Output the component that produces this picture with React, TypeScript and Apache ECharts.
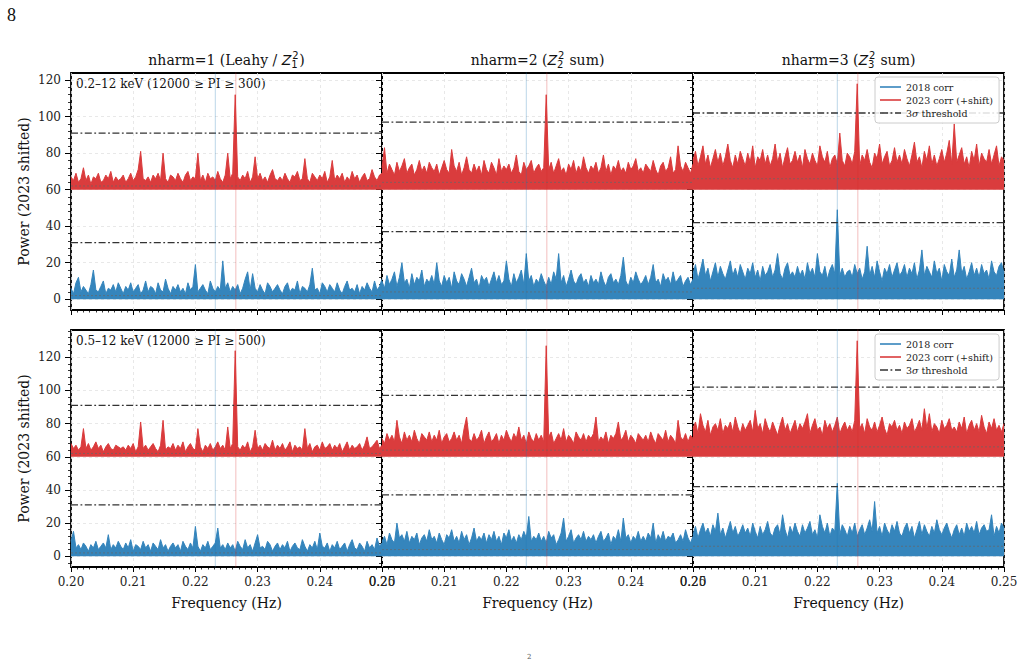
import React, { useEffect, useRef } from 'react';
import * as echarts from 'echarts';

// ---- frequency grid (Hz) ----
const FREQ_START = 0.2;
const FREQ_STEP = 0.0004;

// ---- axis ticks ----
const Y_TICKS = [0, 20, 40, 60, 80, 100, 120];
const Y_MINOR_STEP = 4;
const Y_RANGE_ROW = [[-5.9, 123.9], [-6.5, 136.5]];

// ---- constants of the analysis ----
const SHIFT = 60; // 2023 curve shifted up by this much
const THRESH_3SIGMA = [31, 37, 42]; // per nharm
const MEAN_LEVEL = [2, 4, 6]; // expected mean 2*nharm
const F_2018 = 0.2232;
const F_2023 = 0.2265;

const ROW_LABELS = ['0.2–12 keV (12000 ≥ PI ≥ 300)', '0.5–12 keV (12000 ≥ PI ≥ 500)'];
const TITLES = [
  { pre: 'nharm=1 (Leahy / ', sub: '1', post: ')' },
  { pre: 'nharm=2 (', sub: '2', post: ' sum)' },
  { pre: 'nharm=3 (', sub: '3', post: ' sum)' },
];
const NAME_2018 = '2018 corr';
const NAME_2023 = '2023 corr (+shift)';
const NAME_THR = '3σ threshold';

// ---- powers: row A = 0.2–12 keV, row B = 0.5–12 keV; 1,2,3 = nharm ----
const A1_2018 = [
  6, 3, 9, 12, 4, 7, 5, 3, 8, 16, 5, 4, 7, 10, 3, 6, 5, 8, 4, 9, 6,
  3, 7, 5, 9, 4, 6, 8, 3, 5, 10, 4, 7, 6, 3, 9, 5, 4, 11, 6, 3, 7,
  5, 8, 4, 6, 3, 9, 5, 7, 19, 4, 6, 8, 5, 3, 10, 6, 4, 7, 5, 21, 6,
  9, 4, 7, 5, 8, 3, 6, 11, 15, 5, 14, 6, 4, 8, 5, 3, 9, 7, 4, 6, 8,
  5, 3, 7, 9, 4, 6, 5, 10, 3, 7, 6, 4, 8, 17, 5, 6, 3, 9, 7, 4, 8,
  6, 4, 9, 5, 3, 7, 10, 5, 6, 4, 8, 3, 7, 5, 9, 6, 4, 10, 5, 7, 11,
];
const A1_2023 = [
  7, 5, 9, 4, 6, 12, 5, 8, 3, 7, 6, 9, 4, 5, 8, 6, 10, 4, 7, 5, 6,
  8, 4, 6, 9, 5, 7, 11, 21, 6, 5, 7, 4, 8, 6, 9, 5, 20, 6, 4, 8, 7,
  5, 9, 6, 4, 8, 10, 5, 7, 6, 20, 5, 8, 4, 9, 6, 7, 5, 10, 6, 4, 8,
  20, 6, 9, 52, 7, 5, 8, 6, 10, 4, 7, 18, 6, 9, 5, 7, 4, 8, 11, 6, 5,
  7, 5, 9, 6, 4, 8, 7, 10, 5, 6, 17, 6, 4, 9, 7, 5, 8, 6, 10, 4, 7,
  16, 5, 8, 6, 9, 4, 7, 5, 10, 6, 8, 4, 7, 9, 5, 6, 11, 7, 5, 8, 9,
];
const A2_2018 = [
  10, 6, 13, 8, 11, 15, 7, 12, 20, 9, 11, 6, 14, 8, 12, 10, 16, 7, 11, 9, 13,
  8, 20, 10, 7, 13, 9, 12, 6, 15, 10, 8, 14, 11, 7, 12, 17, 9, 11, 6, 13, 10,
  12, 7, 11, 15, 9, 13, 8, 10, 21, 11, 7, 14, 9, 12, 16, 8, 25, 10, 13, 7, 11,
  9, 14, 10, 7, 12, 8, 15, 11, 25, 9, 13, 7, 11, 16, 10, 8, 12, 14, 9, 11, 7,
  13, 9, 11, 8, 15, 10, 7, 12, 14, 9, 11, 8, 13, 23, 10, 7, 12, 9, 15, 11, 8,
  10, 13, 8, 12, 19, 9, 11, 7, 14, 10, 12, 8, 15, 9, 11, 13, 7, 10, 12, 8, 11,
];
const A2_2023 = [
  12, 23, 9, 14, 11, 8, 15, 10, 13, 17, 9, 12, 14, 8, 11, 16, 10, 13, 9, 15, 12,
  10, 14, 8, 12, 16, 11, 9, 22, 13, 10, 15, 8, 12, 18, 11, 9, 14, 10, 13, 8, 16,
  11, 9, 15, 12, 8, 17, 10, 13, 11, 14, 9, 12, 19, 10, 8, 15, 11, 13, 16, 9, 12,
  14, 10, 12, 52, 11, 15, 9, 13, 17, 10, 12, 8, 14, 11, 16, 9, 13, 10, 18, 12, 9,
  13, 11, 15, 9, 12, 19, 10, 14, 8, 13, 11, 16, 10, 12, 9, 15, 11, 13, 17, 10, 12,
  9, 14, 12, 10, 16, 11, 8, 13, 15, 10, 12, 18, 9, 11, 24, 13, 10, 15, 12, 9, 14,
];
const A3_2018 = [
  14, 19, 11, 16, 22, 13, 17, 10, 15, 20, 12, 18, 14, 11, 16, 21, 13, 17, 12, 19, 15,
  11, 17, 14, 20, 12, 16, 10, 18, 13, 15, 19, 12, 16, 25, 14, 11, 17, 20, 13, 15, 12,
  18, 13, 16, 11, 20, 14, 17, 12, 25, 15, 13, 18, 11, 16, 19, 14, 49, 13, 17, 12, 15,
  16, 12, 19, 14, 17, 11, 15, 29, 13, 18, 12, 21, 15, 10, 17, 14, 19, 12, 16, 20, 13,
  15, 19, 12, 17, 14, 20, 11, 16, 27, 13, 18, 15, 12, 21, 14, 17, 10, 19, 15, 13, 22,
  12, 16, 27, 14, 18, 11, 15, 20, 13, 17, 12, 19, 14, 16, 11, 21, 15, 13, 18, 20, 14,
];
const A3_2023 = [
  16, 21, 13, 18, 24, 14, 19, 12, 17, 22, 15, 20, 13, 18, 25, 16, 12, 19, 14, 21, 17,
  13, 20, 15, 24, 12, 18, 16, 22, 14, 19, 13, 17, 25, 15, 20, 12, 18, 23, 14, 16, 21,
  15, 19, 12, 22, 17, 14, 20, 16, 13, 24, 18, 15, 21, 12, 17, 19, 14, 31, 16, 13, 20,
  18, 14, 21, 58, 13, 19, 16, 22, 15, 12, 20, 17, 25, 14, 18, 21, 13, 16, 23, 15, 19,
  14, 22, 17, 13, 19, 26, 15, 18, 12, 21, 16, 24, 14, 19, 13, 17, 22, 15, 20, 27, 14,
  36, 15, 19, 23, 14, 18, 12, 21, 16, 25, 13, 20, 17, 15, 22, 14, 19, 24, 13, 18, 16,
];
const B1_2018 = [
  9, 15, 5, 7, 4, 8, 6, 3, 7, 5, 9, 4, 6, 8, 5, 13, 4, 7, 5, 9, 6,
  4, 8, 5, 10, 3, 7, 6, 4, 9, 5, 7, 3, 8, 6, 4, 10, 5, 7, 3, 6, 8,
  5, 7, 3, 9, 6, 4, 8, 5, 18, 6, 3, 7, 5, 9, 4, 6, 8, 17, 5, 7, 4,
  8, 5, 7, 3, 9, 6, 4, 10, 5, 7, 3, 8, 13, 5, 6, 4, 9, 7, 3, 6, 8,
  4, 7, 5, 9, 3, 6, 8, 5, 4, 10, 6, 3, 7, 5, 9, 4, 14, 6, 5, 8, 3,
  7, 5, 9, 4, 6, 8, 3, 7, 10, 5, 4, 8, 6, 3, 9, 5, 7, 4, 11, 6, 8,
];
const B1_2023 = [
  8, 5, 7, 4, 6, 17, 5, 8, 4, 6, 9, 5, 7, 3, 6, 8, 5, 4, 7, 6, 5,
  6, 4, 7, 5, 8, 3, 6, 21, 5, 7, 4, 6, 8, 5, 3, 7, 22, 4, 6, 5, 8,
  4, 7, 5, 9, 3, 6, 8, 5, 4, 17, 6, 3, 7, 5, 8, 4, 6, 9, 5, 7, 4,
  18, 5, 8, 64, 6, 4, 7, 5, 9, 3, 6, 16, 5, 7, 4, 8, 6, 5, 10, 4, 7,
  5, 8, 4, 6, 9, 3, 7, 5, 6, 4, 17, 5, 8, 3, 6, 7, 4, 9, 5, 6, 8,
  4, 7, 5, 8, 3, 6, 9, 4, 7, 5, 6, 8, 4, 7, 12, 5, 6, 8, 10, 5, 7,
];
const B2_2018 = [
  9, 12, 7, 14, 10, 8, 20, 11, 13, 9, 15, 8, 12, 10, 14, 7, 11, 13, 9, 16, 10,
  12, 8, 14, 10, 7, 13, 11, 16, 9, 12, 8, 15, 10, 13, 7, 11, 17, 9, 12, 10, 14,
  8, 13, 10, 15, 9, 12, 7, 14, 11, 16, 9, 12, 8, 13, 10, 15, 11, 24, 9, 12, 10,
  14, 9, 12, 8, 15, 11, 13, 7, 10, 14, 23, 9, 12, 16, 8, 11, 13, 10, 15, 9, 12,
  10, 13, 8, 12, 15, 9, 11, 14, 7, 12, 10, 16, 9, 23, 11, 13, 8, 12, 10, 15, 9,
  12, 9, 14, 11, 20, 8, 13, 10, 15, 9, 12, 11, 14, 8, 10, 13, 9, 16, 11, 8, 12,
];
const B2_2023 = [
  11, 8, 14, 10, 13, 9, 22, 12, 8, 15, 10, 13, 9, 16, 11, 8, 14, 12, 10, 15, 9,
  13, 10, 16, 8, 12, 14, 9, 11, 15, 10, 13, 8, 17, 24, 11, 9, 14, 10, 12, 16, 8,
  12, 15, 9, 11, 14, 8, 13, 10, 16, 12, 9, 14, 11, 18, 10, 13, 8, 15, 11, 9, 14,
  10, 13, 9, 67, 12, 15, 8, 11, 14, 10, 17, 9, 13, 11, 8, 15, 12, 10, 14, 9, 13,
  11, 14, 24, 9, 12, 10, 15, 8, 13, 11, 14, 21, 10, 12, 16, 9, 13, 11, 8, 14, 12,
  10, 13, 9, 15, 11, 8, 14, 12, 10, 16, 9, 13, 11, 8, 22, 12, 10, 14, 9, 13, 11,
];
const B3_2018 = [
  13, 18, 11, 16, 20, 14, 17, 12, 19, 15, 26, 13, 17, 11, 16, 21, 14, 18, 12, 15, 19,
  14, 17, 12, 20, 15, 11, 18, 13, 16, 21, 14, 12, 17, 19, 13, 25, 16, 11, 18, 14, 20,
  15, 12, 19, 14, 17, 21, 13, 16, 11, 25, 18, 14, 20, 12, 17, 15, 44, 13, 19, 16, 12,
  18, 14, 20, 12, 16, 19, 13, 17, 22, 15, 33, 14, 18, 12, 20, 16, 13, 19, 15, 21, 14,
  12, 17, 20, 14, 18, 11, 16, 21, 13, 19, 15, 12, 18, 14, 22, 16, 13, 17, 20, 15, 11,
  16, 19, 13, 17, 12, 20, 15, 18, 14, 21, 13, 17, 19, 15, 16, 25, 12, 18, 14, 20, 17,
];
const B3_2023 = [
  17, 21, 14, 26, 19, 15, 22, 13, 18, 20, 16, 23, 14, 19, 17, 21, 15, 24, 18, 14, 20,
  16, 19, 22, 15, 28, 17, 20, 14, 23, 18, 15, 21, 17, 13, 19, 24, 16, 20, 14, 18, 22,
  15, 20, 17, 21, 26, 14, 19, 23, 16, 18, 13, 22, 17, 20, 15, 19, 24, 14, 18, 21, 16,
  19, 15, 22, 70, 17, 20, 14, 23, 18, 16, 21, 15, 19, 24, 17, 13, 20, 18, 22, 16, 19,
  14, 21, 17, 19, 23, 15, 18, 22, 16, 29, 17, 26, 15, 20, 18, 14, 22, 17, 19, 23, 16,
  18, 15, 21, 17, 24, 14, 19, 22, 16, 20, 15, 25, 18, 14, 21, 17, 23, 16, 19, 15, 20,
];

const PANEL_DATA = [
  [A1_2018, A1_2023], [A2_2018, A2_2023], [A3_2018, A3_2023],
  [B1_2018, B1_2023], [B2_2018, B2_2023], [B3_2018, B3_2023],
];

// ---- layout ----
const GRID_LEFT = [71, 382, 693];
const GRID_TOP = [73, 330];
const GW = 311;
const GH = 237;
const SERIF = '"DejaVu Serif", serif';
const C_BLUE = '#3585bc';
const C_RED = '#da3c3d';
const ICON_LINE = 'path://M0,0h21v1.6h-21z';
const ICON_DASHDOT = 'path://M0,0h8v1.6h-8zM10.5,0h1.8v1.6h-1.8zM15,0h6v1.6h-6z';

function toXY(vals: number[], offset: number) {
  return vals.map((v, i) => [+(FREQ_START + i * FREQ_STEP).toFixed(4), v + offset]);
}

export default function App() {
  const ref = useRef<HTMLDivElement>(null);
  useEffect(() => {
    if (!ref.current) return;
    const chart = echarts.init(ref.current, null, { renderer: 'svg' });
    const ctx = document.createElement('canvas').getContext('2d')!;
    const measure = (t: string, font: string) => { ctx.font = font; return ctx.measureText(t).width; };

    const grids: any[] = [];
    const xAxes: any[] = [];
    const yAxes: any[] = [];
    const yMinor: any[] = [];
    const series: any[] = [];
    const splitStyle = { color: '#e2e2e2', width: 0.8, type: [3, 3] };

    for (let r = 0; r < 2; r++) {
      for (let c = 0; c < 3; c++) {
        const g = r * 3 + c;
        const [ymin, ymax] = Y_RANGE_ROW[r];
        grids.push({ left: GRID_LEFT[c], top: GRID_TOP[r], width: GW, height: GH, show: true, borderColor: '#000', borderWidth: 1.8, backgroundColor: 'transparent' });
        xAxes.push({
          gridIndex: g, type: 'value', min: 0.2, max: 0.25, interval: 0.01,
          axisLine: { show: false, onZero: false },
          axisTick: { show: true, inside: false, length: 5, lineStyle: { color: '#000', width: 1 } },
          minorTick: { show: true, splitNumber: 10, length: 2.5, lineStyle: { color: '#000', width: 0.8 } },
          axisLabel: { show: r === 1, formatter: (v: number) => v.toFixed(2), fontFamily: SERIF, fontSize: 12, color: '#222', margin: 9 },
          splitLine: { show: true, lineStyle: splitStyle },
        });
        const ticks = Y_TICKS.filter((v) => v <= ymax);
        yAxes.push({
          gridIndex: g, type: 'value', min: ymin, max: ymax, splitNumber: 6,
          axisLine: { show: false, onZero: false },
          axisTick: { show: true, inside: false, length: 6, customValues: ticks, lineStyle: { color: '#000', width: 1 } },
          axisLabel: { show: c === 0, customValues: ticks, fontFamily: SERIF, fontSize: 12, color: '#222', margin: 10 },
          splitLine: { show: true, lineStyle: splitStyle },
        });
        const minors: number[] = [];
        for (let v = Math.ceil(ymin / Y_MINOR_STEP) * Y_MINOR_STEP; v <= ymax; v += Y_MINOR_STEP) {
          if (v % 20 !== 0) minors.push(v);
        }
        yMinor.push({
          gridIndex: g, type: 'value', min: ymin, max: ymax, position: 'left',
          axisLine: { show: false, onZero: false },
          axisTick: { show: true, inside: false, length: 3, customValues: minors, lineStyle: { color: '#000', width: 0.8 } },
          axisLabel: { show: false }, splitLine: { show: false },
        });

        const [d18, d23] = PANEL_DATA[g];
        const base = { type: 'line', xAxisIndex: g, yAxisIndex: g, showSymbol: false, symbol: 'none', silent: true, clip: true };
        series.push({ ...base, name: NAME_2018, data: toXY(d18, 0), lineStyle: { color: C_BLUE, width: 1 }, itemStyle: { color: C_BLUE }, areaStyle: { color: C_BLUE, opacity: 1, origin: 0 }, z: 2 });
        series.push({ ...base, name: NAME_2023, data: toXY(d23, SHIFT), lineStyle: { color: C_RED, width: 1 }, itemStyle: { color: C_RED }, areaStyle: { color: C_RED, opacity: 1, origin: SHIFT }, z: 2 });
        const thr = THRESH_3SIGMA[c];
        for (const lvl of [thr, thr + SHIFT]) {
          series.push({ ...base, name: NAME_THR, data: [[0.2, lvl], [0.25, lvl]], lineStyle: { color: '#333', width: 1.3, type: [7, 2.5, 1.8, 2.5] }, itemStyle: { color: '#333' }, z: 3 });
        }
        const m = MEAN_LEVEL[c];
        for (const lvl of [m, m + SHIFT]) {
          series.push({ ...base, name: '_mean', data: [[0.2, lvl], [0.25, lvl]], lineStyle: { color: '#666', width: 1, opacity: 0.7, type: [2, 2] }, z: 4 });
        }
        series.push({ ...base, name: '_m18', data: [[F_2018, ymin - 10], [F_2018, ymax + 10]], lineStyle: { color: '#1f77b4', width: 1, opacity: 0.3 }, z: 5 });
        series.push({ ...base, name: '_m23', data: [[F_2023, ymin - 10], [F_2023, ymax + 10]], lineStyle: { color: '#d62728', width: 1, opacity: 0.3 }, z: 5 });
      }
    }

    const legendBase = {
      orient: 'vertical', left: 875, itemWidth: 21, itemHeight: 1.6, itemGap: 3,
      padding: [5, 6, 5, 5], backgroundColor: 'rgba(255,255,255,0.85)', borderColor: '#ccc', borderWidth: 1, borderRadius: 3,
      data: [
        { name: NAME_2018, icon: ICON_LINE },
        { name: NAME_2023, icon: ICON_LINE },
        { name: NAME_THR, icon: ICON_DASHDOT },
      ],
      formatter: (n: string) => n.replace('σ', '{i|σ}'),
      textStyle: { fontFamily: SERIF, fontSize: 9.5, color: '#222', rich: { i: { fontFamily: SERIF, fontStyle: 'italic', fontSize: 9.5, color: '#222' } } },
      selectedMode: false,
    };

    const graphic: any[] = [];
    graphic.push({ type: 'text', x: 7, y: 15, style: { text: '8', fontFamily: '"Liberation Serif", serif', fontSize: 18, fill: '#111', align: 'left', verticalAlign: 'middle' } });
    const fMain = '14px "DejaVu Serif"';
    const fZ = 'italic 14px "DejaVu Sans"';
    const fS = '10px "DejaVu Sans"';
    TITLES.forEach((t, c) => {
      const cx = GRID_LEFT[c] + GW / 2;
      const wPre = measure(t.pre, fMain);
      const wZ = measure('Z', fZ);
      const wS = Math.max(measure('2', fS), measure(t.sub, fS)) + 1.5;
      const wPost = measure(t.post, fMain);
      const x0 = cx - (wPre + wZ + wS + wPost) / 2;
      const y = 60;
      graphic.push({ type: 'text', x: x0, y, style: { text: t.pre, fontFamily: SERIF, fontSize: 14, fill: '#111', align: 'left', verticalAlign: 'middle' } });
      graphic.push({ type: 'text', x: x0 + wPre, y, style: { text: 'Z', fontFamily: '"DejaVu Sans"', fontStyle: 'italic', fontSize: 14, fill: '#111', align: 'left', verticalAlign: 'middle' } });
      graphic.push({ type: 'text', x: x0 + wPre + wZ + 1, y: y - 5, style: { text: '2', fontFamily: '"DejaVu Sans"', fontSize: 10, fill: '#111', align: 'left', verticalAlign: 'middle' } });
      graphic.push({ type: 'text', x: x0 + wPre + wZ, y: y + 4.5, style: { text: t.sub, fontFamily: '"DejaVu Sans"', fontSize: 10, fill: '#111', align: 'left', verticalAlign: 'middle' } });
      graphic.push({ type: 'text', x: x0 + wPre + wZ + wS, y, style: { text: t.post, fontFamily: SERIF, fontSize: 14, fill: '#111', align: 'left', verticalAlign: 'middle' } });
      graphic.push({ type: 'text', x: cx, y: 603, style: { text: 'Frequency (Hz)', fontFamily: SERIF, fontSize: 14, fill: '#111', align: 'center', verticalAlign: 'middle' } });
    });
    ROW_LABELS.forEach((t, r) => {
      graphic.push({ type: 'text', x: 76, y: GRID_TOP[r] + 11, style: { text: t, fontFamily: SERIF, fontSize: 12, fill: '#111', align: 'left', verticalAlign: 'middle' } });
      graphic.push({ type: 'text', x: 24, y: GRID_TOP[r] + GH / 2, rotation: Math.PI / 2, style: { text: 'Power (2023 shifted)', fontFamily: SERIF, fontSize: 14, fill: '#111', align: 'center', verticalAlign: 'middle' } });
    });
    graphic.push({ type: 'text', x: 527, y: 653, style: { text: '2', fontFamily: SERIF, fontSize: 7, fill: '#555', align: 'left', verticalAlign: 'top' } });

    chart.setOption({
      animation: false,
      grid: grids,
      xAxis: xAxes,
      yAxis: [...yAxes, ...yMinor],
      legend: [{ ...legendBase, top: 77 }, { ...legendBase, top: 334 }],
      series,
      graphic,
    });
    return () => chart.dispose();
  }, []);
  return <div ref={ref} style={{ position: 'absolute', left: 0, top: 0, width: 1024, height: 663, background: '#fff' }} />;
}
